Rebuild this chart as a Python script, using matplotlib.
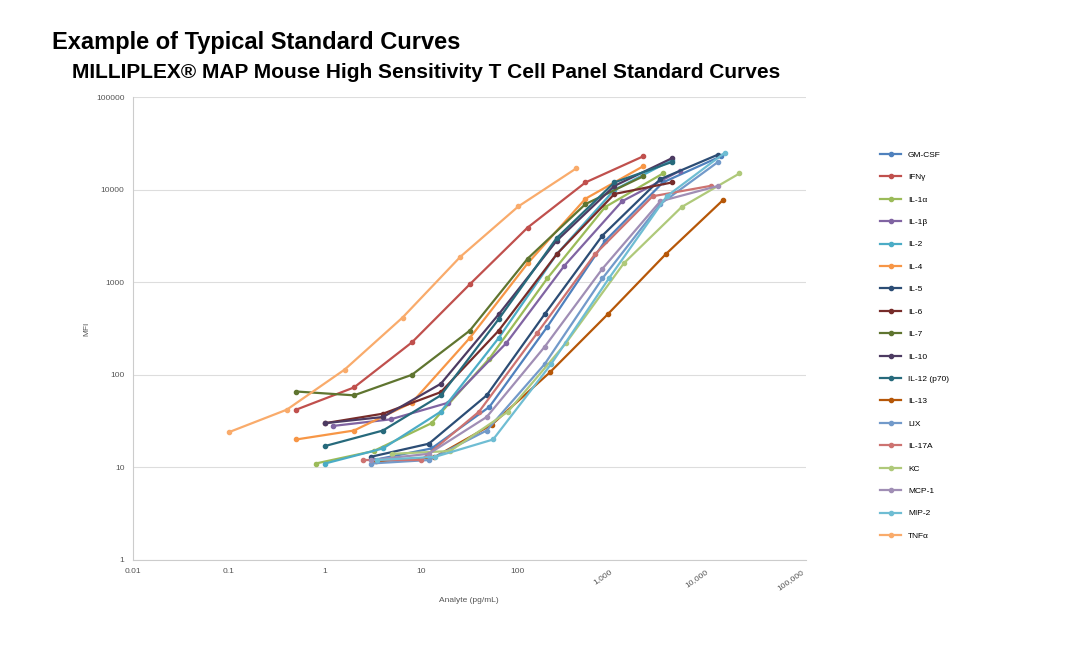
import numpy as np
import matplotlib.pyplot as plt
from matplotlib.ticker import FixedLocator, NullLocator

plt.rcParams['font.family'] = ['Liberation Sans', 'DejaVu Sans']

analytes = ["GM-CSF", "IFNγ", "IL-1α", "IL-1β", "IL-2", "IL-4", "IL-5", "IL-6", "IL-7",
            "IL-10", "IL-12 (p70)", "IL-13", "LIX", "IL-17A", "KC", "MCP-1", "MIP-2", "TNFα"]
colors = ["#4F81BD", "#C0504D", "#9BBB59", "#8064A2", "#4BACC6", "#F79646", "#2C4D75",
          "#772C2A", "#5F7530", "#4D3B62", "#276A7C", "#B65708", "#729ACA", "#CD7371",
          "#AFC97A", "#A08EB5", "#6FBDD3", "#F9AB6B"]

# lowest standard concentration (pg/mL), 4-fold dilution series
start_conc = [3.2, 0.5, 0.8, 1.2, 1.0, 0.5, 3.0, 1.0, 0.5, 1.0, 1.0, 3.4, 3.0, 2.5, 5.0, 3.0, 3.5, 0.1]
mfi = [
    [12, 16, 45, 330, 2800, 12000, 23000],
    [42, 73, 224, 950, 3900, 12000, 23000],
    [11, 15, 30, 150, 1100, 6500, 15000],
    [28, 33, 50, 220, 1500, 7500, 16000],
    [11, 16, 40, 250, 2000, 10000, 21000],
    [20, 25, 50, 250, 1600, 8000, 18000],
    [13, 18, 60, 450, 3200, 13000, 24000],
    [30, 38, 65, 300, 2000, 9000, 12000],
    [66, 60, 100, 300, 1800, 7000, 14000],
    [30, 35, 80, 450, 2800, 11000, 22000],
    [17, 25, 60, 400, 3000, 12000, 20000],
    [11.6, 12.8, 29, 106, 450, 2000, 7800],
    [11, 12, 25, 130, 1100, 7000, 20000],
    [12, 12, 40, 280, 2000, 8500, 11000],
    [14, 15, 40, 220, 1600, 6500, 15000],
    [12, 14, 35, 200, 1400, 7500, 11000],
    [12, 13, 20, 130, 1100, 8500, 25000],
    [24, 42, 114, 416, 1890, 6600, 17000],
]
x_ticks = [0.01, 0.1, 1, 10, 100, 1000, 10000, 100000]
x_labels = ["0.01", "0.1", "1", "10", "100", "1,000", "10,000", "100,000"]
y_ticks = [1, 10, 100, 1000, 10000, 100000]

fig = plt.figure(figsize=(10.8, 6.48), dpi=100)
ax = fig.add_axes([0.123, 0.136, 0.623, 0.714])

for name, c, s, y in zip(analytes, colors, start_conc, mfi):
    x = s * 4.0 ** np.arange(len(y))
    ax.plot(x, y, color=c, lw=1.6, marker="o", ms=3, label=name)

ax.set_xscale("log")
ax.set_yscale("log")
ax.set_xlim(0.01, 100000)
ax.set_ylim(1, 100000)
ax.xaxis.set_major_locator(FixedLocator(x_ticks))
ax.xaxis.set_minor_locator(NullLocator())
ax.yaxis.set_major_locator(FixedLocator(y_ticks))
ax.yaxis.set_minor_locator(NullLocator())
ax.set_xticklabels(x_labels, fontsize=6, color="#555555")
for lab in ax.get_xticklabels()[5:]:
    lab.set_rotation(35)
    lab.set_ha("right")
ax.set_yticklabels([str(v) for v in y_ticks], fontsize=6, color="#555555")
ax.tick_params(length=0, pad=6)
ax.grid(axis="y", color="#dddddd", lw=0.8)
for side in ["top", "right"]:
    ax.spines[side].set_visible(False)
for side in ["left", "bottom"]:
    ax.spines[side].set_color("#cccccc")
ax.set_xlabel("Analyte (pg/mL)", fontsize=6, color="#555555")
ax.set_ylabel("MFI", fontsize=6, color="#555555")

ax.legend(loc="upper left", bbox_to_anchor=(1.1, 0.9), frameon=False, fontsize=6,
          labelspacing=1.75, handlelength=2.5)

fig.text(0.048, 0.925, "Example of Typical Standard Curves", fontsize=17, fontweight="bold")
fig.text(0.067, 0.88, "MILLIPLEX® MAP Mouse High Sensitivity T Cell Panel Standard Curves",
         fontsize=15, fontweight="bold")

fig.savefig("out.png")
